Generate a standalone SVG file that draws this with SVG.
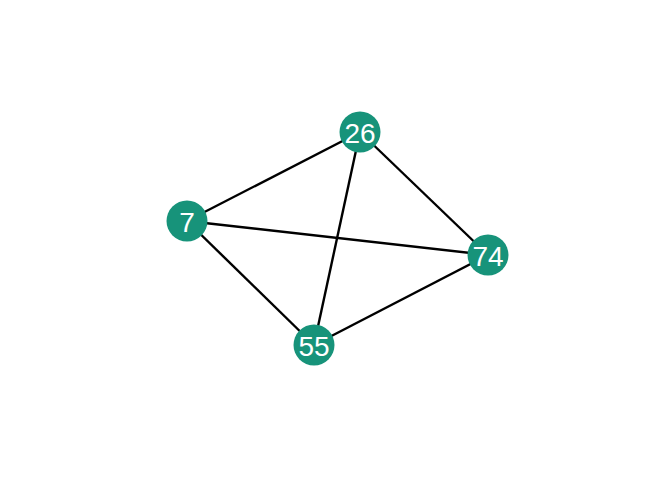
<svg xmlns="http://www.w3.org/2000/svg" width="672" height="480" viewBox="0 0 672 480">
<style>
.e{stroke:#000;stroke-width:2.4;fill:none}
.n circle{fill:#17937A}
.n text{fill:#fff;font-family:"Liberation Sans",Arial,sans-serif;font-size:28px;text-anchor:middle;dominant-baseline:central}
</style>
<rect width="672" height="480" fill="#fff"/>
<g id="edges">
<line class="e" x1="360" y1="132" x2="187" y2="221"/>
<line class="e" x1="360" y1="132" x2="488" y2="255"/>
<line class="e" x1="360" y1="132" x2="314" y2="345"/>
<line class="e" x1="187" y1="221" x2="488" y2="255"/>
<line class="e" x1="187" y1="221" x2="314" y2="345"/>
<line class="e" x1="488" y1="255" x2="314" y2="345"/>
</g>
<g id="n26" class="n"><circle cx="360" cy="132" r="20.5"/><text x="360" y="133">26</text></g>
<g id="n7" class="n"><circle cx="187" cy="221" r="20.5"/><text x="187" y="222">7</text></g>
<g id="n74" class="n"><circle cx="488" cy="255" r="20.5"/><text x="488" y="256">74</text></g>
<g id="n55" class="n"><circle cx="314" cy="345" r="20.5"/><text x="314" y="346">55</text></g>
</svg>
